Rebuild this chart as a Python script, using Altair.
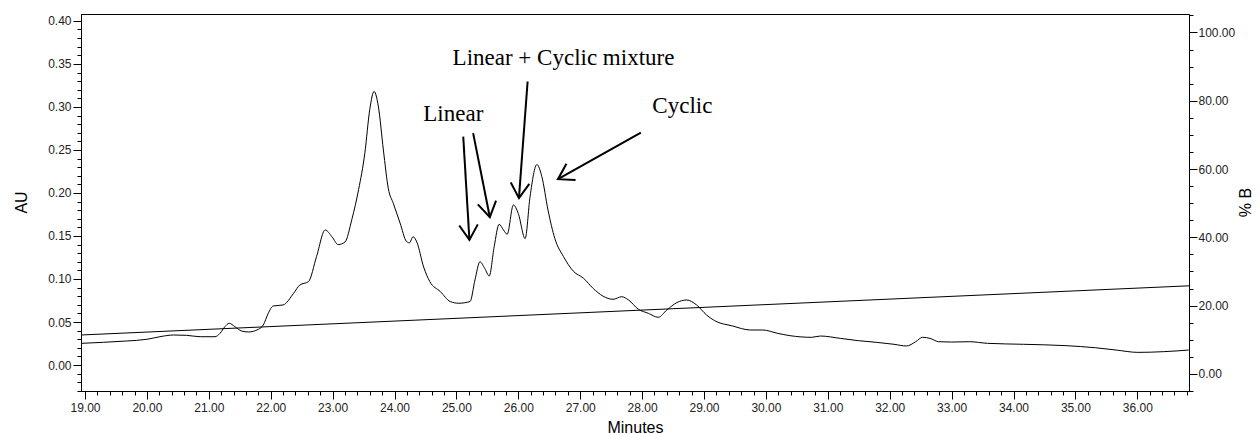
import math
import altair as alt
import pandas as pd

# ---------------- data ----------------
time_min = [18.94, 19.30, 19.67, 20.00, 20.21, 20.43, 20.64, 20.86, 21.10, 21.18,
            21.26, 21.33, 21.42, 21.53, 21.64, 21.80, 21.88, 21.96, 22.04, 22.20,
            22.37, 22.47, 22.61, 22.74, 22.88, 22.99, 23.09, 23.20, 23.31, 23.42,
            23.52, 23.60, 23.67, 23.74, 23.82, 23.90, 23.98, 24.09, 24.19, 24.24,
            24.30, 24.36, 24.47, 24.57, 24.74, 24.90, 25.04, 25.22, 25.30, 25.38,
            25.46, 25.53, 25.61, 25.69, 25.76, 25.82, 25.92, 26.00, 26.11, 26.19,
            26.30, 26.38, 26.48, 26.59, 26.73, 26.89, 27.05, 27.21, 27.37, 27.53,
            27.67, 27.78, 27.94, 28.10, 28.26, 28.40, 28.56, 28.72, 28.88, 29.04,
            29.17, 29.46, 29.75, 29.95, 30.19, 30.39, 30.74, 30.88, 31.20, 31.49,
            31.78, 32.07, 32.27, 32.42, 32.53, 32.65, 32.79, 33.00, 33.29, 33.58,
            34.16, 34.85, 35.32, 35.66, 36.01, 36.42, 36.83]
au_values = [0.0252, 0.0264, 0.0279, 0.0299, 0.0329, 0.0349, 0.0345, 0.0329, 0.0329, 0.0368,
             0.0446, 0.0485, 0.0446, 0.0395, 0.0384, 0.0415, 0.0465, 0.0601, 0.0686, 0.0698,
             0.0834, 0.0930, 0.0969, 0.1260, 0.1570, 0.1490, 0.1400, 0.1430, 0.1690, 0.2040,
             0.2460, 0.2970, 0.3180, 0.3000, 0.2500, 0.2050, 0.1880, 0.1650, 0.1440, 0.1420,
             0.1490, 0.1430, 0.1140, 0.0970, 0.0854, 0.0738, 0.0718, 0.0738, 0.0990, 0.1200,
             0.1120, 0.1035, 0.1376, 0.1636, 0.1570, 0.1520, 0.1860, 0.1760, 0.1470, 0.1960,
             0.2330, 0.2190, 0.1800, 0.1470, 0.1260, 0.1090, 0.1010, 0.0890, 0.0800, 0.0764,
             0.0794, 0.0756, 0.0648, 0.0601, 0.0555, 0.0640, 0.0725, 0.0756, 0.0698, 0.0582,
             0.0516, 0.0454, 0.0407, 0.0407, 0.0368, 0.0341, 0.0322, 0.0337, 0.0310, 0.0283,
             0.0264, 0.0241, 0.0221, 0.0271, 0.0322, 0.0310, 0.0271, 0.0267, 0.0271, 0.0252,
             0.0241, 0.0225, 0.0201, 0.0174, 0.0147, 0.0155, 0.0174]

grad_time = [18.935, 36.835]
grad_pct = [11.4, 25.8]

label_text = ["Linear", "Linear + Cyclic mixture", "Cyclic"]
label_t = [24.95, 26.73, 28.65]
label_au = [0.284, 0.349, 0.2927]

arrow_t0 = [25.11, 25.27, 26.15, 27.98]
arrow_au0 = [0.2655, 0.2695, 0.3295, 0.2702]
arrow_t1 = [25.21, 25.54, 26.01, 26.64]
arrow_au1 = [0.1454, 0.1718, 0.1939, 0.2160]

x_ticks = [round(19 + 0.2 * i, 1) for i in range(90)]
au_ticks = [round(-0.03 + 0.01 * i, 2) for i in range(44)]
pct_ticks = [-5 + 5 * i for i in range(23)]

# ---------------- layout ----------------
W, H = 1108, 377
X_DOM = [18.935, 36.835]
AU_DOM = [-0.0302, 0.408]
PCT_DOM = [-5.0, 105.4]

px_t = W / (X_DOM[1] - X_DOM[0])
px_au = H / (AU_DOM[1] - AU_DOM[0])

trace = pd.DataFrame({"t": time_min, "au": au_values})
grad = pd.DataFrame({"t": grad_time, "pct": grad_pct})
labels = pd.DataFrame({"t": label_t, "au": label_au, "txt": label_text})

angles = []
for a, b, c, d in zip(arrow_t0, arrow_au0, arrow_t1, arrow_au1):
    dx = (c - a) * px_t
    dy = -(d - b) * px_au
    angles.append(math.degrees(math.atan2(dx, -dy)) % 360)
arrows = pd.DataFrame({"t": arrow_t0, "a0": arrow_au0, "t1": arrow_t1,
                       "a1": arrow_au1, "ang": angles})
heads_df = pd.DataFrame({"t": arrow_t1, "a1": arrow_au1, "ang": angles})

xscale = alt.Scale(domain=X_DOM, nice=False, zero=False)
auscale = alt.Scale(domain=AU_DOM, nice=False, zero=False)
pctscale = alt.Scale(domain=PCT_DOM, nice=False, zero=False)

x_major = "abs(datum.value - round(datum.value)) < 0.001"
au_major = "abs(datum.value * 20 - round(datum.value * 20)) < 0.001"
pct_major = "abs(datum.value / 20 - round(datum.value / 20)) < 0.001"

x_axis = alt.Axis(
    values=x_ticks, title="Minutes", orient="bottom",
    labelExpr=f"{x_major} ? format(datum.value, '.2f') : ''",
    tickSize={"condition": {"test": x_major, "value": 8}, "value": 4},
    labelPadding=3, labelOverlap=False, labelFlush=False,
    titleY=41, titleBaseline="alphabetic", grid=False,
)
au_axis = alt.Axis(
    values=au_ticks, title="AU", orient="left",
    labelExpr=f"({au_major}) && datum.value > -0.001 ? format(datum.value, '.2f') : ''",
    tickSize={"condition": {"test": au_major, "value": 8}, "value": 4},
    labelPadding=2, labelOverlap=False, labelFlush=False,
    titleAngle=270, titleX=-60, titleY=188, titleBaseline="middle", titleAlign="center",
    grid=False,
)
pct_axis = alt.Axis(
    values=pct_ticks, title="% B", orient="right",
    labelExpr=f"({pct_major}) && datum.value > -0.001 ? format(datum.value, '.2f') : ''",
    tickSize={"condition": {"test": pct_major, "value": 8}, "value": 4},
    labelPadding=1, labelOverlap=False, labelFlush=False,
    titleAngle=270, titleX=56, titleY=188, titleBaseline="middle", titleAlign="center",
    grid=False,
)


def xenc():
    return alt.X("t:Q", scale=xscale, axis=x_axis, title="Minutes")


trace_line = alt.Chart(trace).mark_line(
    color="black", strokeWidth=1, interpolate="monotone"
).encode(
    x=xenc(),
    y=alt.Y("au:Q", scale=auscale, axis=au_axis),
)

text_layer = alt.Chart(labels).mark_text(
    font="Liberation Serif", fontSize=23, color="black",
    align="center", baseline="alphabetic",
).encode(
    x=xenc(),
    y=alt.Y("au:Q", scale=auscale, axis=None),
    text="txt:N",
)

shafts = alt.Chart(arrows).mark_rule(color="black", strokeWidth=2).encode(
    x=xenc(),
    y=alt.Y("a0:Q", scale=auscale, axis=None),
    x2="t1:Q",
    y2="a1:Q",
)

heads = alt.Chart(heads_df).mark_point(
    shape="M-0.62,1L0,0L0.62,1", filled=False, size=900,
    strokeWidth=2, color="black", opacity=1,
).encode(
    x=xenc(),
    y=alt.Y("a1:Q", scale=auscale, axis=None),
    angle=alt.Angle("ang:Q", scale=None),
)

grad_line = alt.Chart(grad).mark_line(color="black", strokeWidth=1).encode(
    x=xenc(),
    y=alt.Y("pct:Q", scale=pctscale, axis=pct_axis),
)

chart = alt.layer(
    trace_line, grad_line, text_layer, shafts, heads
).resolve_scale(y="independent").properties(
    width=W, height=H,
    padding={"left": 81, "top": 14, "right": 71, "bottom": 43},
    autosize=alt.AutoSizeParams(type="none"),
    background="white",
).configure_view(
    stroke="black", strokeWidth=1,
).configure_axis(
    domainColor="black", tickColor="black", labelColor="#222222",
    labelFont="Liberation Sans", labelFontSize=12,
    titleFont="Liberation Sans", titleFontSize=16, titleFontWeight="normal",
    titleColor="black", domainWidth=1, tickWidth=1,
)

chart.save("out.html", embed_options={"renderer": "svg", "actions": False})
